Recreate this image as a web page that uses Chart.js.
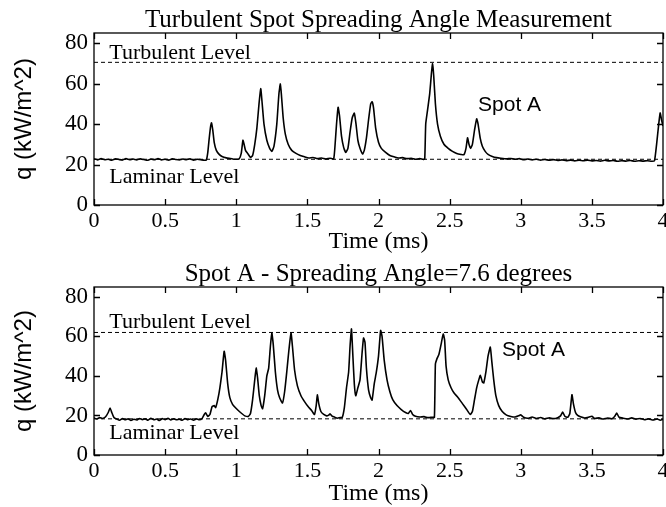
<!DOCTYPE html>
<html>
<head>
<meta charset="utf-8">
<script src="https://cdn.jsdelivr.net/npm/chart.js@4.4.1/dist/chart.umd.min.js"></script>
<style>
  html, body { margin: 0; padding: 0; background: #fff; }
  #wrap { position: relative; width: 666px; height: 507px; overflow: hidden; }
  canvas { position: absolute; left: 0; }
</style>
</head>
<body>
<div id="wrap">
  <canvas id="topChart" width="666" height="253" style="top:0"></canvas>
  <canvas id="bottomChart" width="666" height="254" style="top:253px"></canvas>
</div>
<script>
// Heat flux traces (time in ms, q in kW/m^2)
const topTime = [0, 0.025, 0.05, 0.075, 0.1, 0.125, 0.15, 0.175, 0.2, 0.225, 0.25, 0.275, 0.3, 0.325, 0.35, 0.375,
  0.4, 0.425, 0.45, 0.475, 0.5, 0.525, 0.55, 0.575, 0.6, 0.625, 0.65, 0.675, 0.7, 0.725, 0.75, 0.775, 0.79,
  0.8, 0.81, 0.82, 0.826, 0.835, 0.845, 0.86, 0.88, 0.9, 0.93, 0.96, 0.99, 1.02, 1.035, 1.047, 1.055, 1.065,
  1.08, 1.1, 1.115, 1.13, 1.145, 1.16, 1.172, 1.18, 1.195, 1.215, 1.235, 1.25, 1.265, 1.285, 1.3, 1.31, 1.318,
  1.33, 1.345, 1.365, 1.39, 1.42, 1.45, 1.48, 1.51, 1.54, 1.57, 1.6, 1.63, 1.66, 1.685, 1.695, 1.705, 1.716,
  1.726, 1.74, 1.755, 1.77, 1.785, 1.8, 1.815, 1.83, 1.842, 1.855, 1.87, 1.888, 1.9, 1.915, 1.93, 1.945, 1.955,
  1.965, 1.98, 2.0, 2.02, 2.05, 2.08, 2.11, 2.14, 2.17, 2.2, 2.23, 2.26, 2.29, 2.315, 2.325, 2.332, 2.345, 2.36,
  2.372, 2.38, 2.388, 2.4, 2.415, 2.435, 2.46, 2.49, 2.52, 2.55, 2.58, 2.6, 2.615, 2.626, 2.636, 2.648, 2.66,
  2.675, 2.69, 2.7, 2.715, 2.73, 2.75, 2.77, 2.8, 2.83, 2.86, 2.9, 2.93, 2.96, 2.99, 3.02, 3.05, 3.08, 3.11,
  3.14, 3.17, 3.2, 3.23, 3.26, 3.29, 3.32, 3.35, 3.38, 3.41, 3.44, 3.47, 3.5, 3.53, 3.56, 3.59, 3.62, 3.65,
  3.68, 3.71, 3.74, 3.77, 3.8, 3.83, 3.86, 3.89, 3.92, 3.94, 3.955, 3.97, 3.98, 3.99, 4.0];
const topQ = [22.8, 22.3, 22.9, 22.4, 22.6, 22.1, 22.8, 22.5, 22.2, 22.9, 22.4, 22.7, 22.3, 22.8, 22.5, 22.1,
  22.7, 22.4, 22.9, 22.3, 22.6, 22.2, 22.8, 22.5, 22.3, 22.7, 22.4, 22.8, 22.2, 22.6, 22.4, 22.1, 22.3,
  26, 33, 39, 40.6, 37, 31, 27, 25, 24, 23.3, 23, 22.6, 22.8, 25.5, 32, 30, 27,
  25.5, 23.5, 24.5, 30, 38, 50, 57.5, 52, 40, 32, 28, 26.5, 29, 40, 55, 59.8, 54,
  43, 35, 30, 27, 25.5, 24.5, 23.8, 23.2, 23.5, 22.9, 23.2, 22.7, 23.1, 22.8, 30, 40, 48.3,
  44, 34, 28.5, 26, 28, 36, 43, 45.4, 40, 32, 28, 25.2, 27, 33, 42, 50, 51,
  48, 38, 31, 28, 26, 24.5, 23.8, 23.2, 23.4, 22.9, 23.1, 22.6, 22.9, 22.5, 22.8, 40, 47, 55,
  65, 69.8, 64, 50, 40, 34, 30, 28, 26.5, 25.5, 25, 24.8, 28, 33.2, 30, 28, 30,
  37, 42.6, 40, 33, 29, 26.5, 25, 24, 23.4, 23.1, 22.8, 23.0, 22.6, 22.9, 22.4, 22.7, 22.3, 22.6,
  22.2, 22.5, 22.1, 22.4, 22.0, 22.3, 21.9, 22.2, 21.8, 22.1, 21.9, 22.2, 21.8, 22.0, 21.7, 22.1, 21.8, 22.0,
  21.6, 21.9, 21.7, 22.0, 21.6, 21.9, 21.7, 21.9, 21.6, 21.8, 30, 40, 45.5, 42, 39];

const bottomTime = [0, 0.02, 0.04, 0.06, 0.08, 0.1, 0.113, 0.125, 0.14, 0.16, 0.18, 0.2, 0.22, 0.24, 0.26, 0.28,
  0.3, 0.32, 0.34, 0.36, 0.38, 0.4, 0.42, 0.44, 0.46, 0.48, 0.5, 0.52, 0.54, 0.56, 0.58, 0.6, 0.62, 0.64, 0.66,
  0.68, 0.7, 0.72, 0.74, 0.76, 0.775, 0.785, 0.8, 0.815, 0.83, 0.845, 0.855, 0.87, 0.885, 0.9, 0.915, 0.925,
  0.94, 0.955, 0.975, 1.0, 1.03, 1.06, 1.085, 1.1, 1.115, 1.13, 1.14, 1.15, 1.162, 1.175, 1.185, 1.2, 1.215,
  1.228, 1.24, 1.25, 1.26, 1.275, 1.29, 1.305, 1.325, 1.34, 1.355, 1.37, 1.385, 1.395, 1.41, 1.43, 1.455, 1.48,
  1.505, 1.53, 1.55, 1.562, 1.57, 1.58, 1.595, 1.615, 1.635, 1.65, 1.66, 1.675, 1.69, 1.71, 1.73, 1.745, 1.76,
  1.775, 1.79, 1.8, 1.81, 1.82, 1.83, 1.84, 1.855, 1.87, 1.885, 1.895, 1.905, 1.915, 1.93, 1.945, 1.955, 1.97,
  1.985, 2.0, 2.015, 2.025, 2.04, 2.06, 2.08, 2.1, 2.13, 2.16, 2.19, 2.21, 2.225, 2.24, 2.26, 2.29, 2.32, 2.35,
  2.38, 2.393, 2.4, 2.41, 2.425, 2.44, 2.455, 2.465, 2.475, 2.49, 2.51, 2.53, 2.56, 2.59, 2.62, 2.645, 2.66,
  2.675, 2.69, 2.705, 2.716, 2.73, 2.74, 2.755, 2.77, 2.786, 2.797, 2.81, 2.825, 2.845, 2.87, 2.9, 2.93, 2.96,
  2.985, 3.0, 3.02, 3.05, 3.08, 3.11, 3.14, 3.17, 3.2, 3.23, 3.26, 3.28, 3.295, 3.31, 3.33, 3.345, 3.36, 3.37,
  3.385, 3.4, 3.42, 3.45, 3.48, 3.5, 3.52, 3.55, 3.58, 3.61, 3.64, 3.66, 3.675, 3.69, 3.72, 3.75, 3.78, 3.81,
  3.84, 3.87, 3.9, 3.93, 3.96, 3.98, 4.0];
const bottomQ = [18.8, 18.2, 18.9, 18.5, 19.2, 21.5, 23.8, 21.5, 19.0, 18.2, 17.6, 18.4, 17.8, 18.3, 17.5, 18.1,
  17.7, 18.5, 17.9, 18.3, 17.6, 18.6, 17.8, 18.2, 17.5, 18.4, 17.9, 18.6, 17.7, 18.3, 17.8, 18.1, 17.6, 18.4, 17.9,
  18.2, 17.6, 18.3, 17.8, 18.5, 20.5, 21.3, 19.5, 20.5, 24.5, 25, 24, 28, 34, 42, 52.5, 48,
  36, 29, 25.5, 23.5, 21.5, 19.8, 19.5, 21, 28, 38, 44, 39, 30, 25, 23.4, 30, 40,
  44, 55, 61.8, 56, 42, 33, 29, 26.3, 32, 42, 53, 61.8, 55, 43, 35, 30, 27,
  24.5, 22.5, 20.5, 25, 30.4, 26, 22, 20.5, 19.8, 20.2, 20.8, 19.6, 19.2, 18.6, 18.9, 19, 24,
  34, 42, 55, 63.8, 50, 36, 30, 34, 38, 52, 59.2, 57, 44, 33, 29, 27.8, 36,
  42, 50, 63, 60, 48, 38, 32, 28, 25, 23, 21.5, 21, 22.5, 20.5, 19.6, 19.2, 19.4, 18.9,
  19.1, 19, 46, 48.5, 51, 56, 61.2, 58, 45, 38, 34, 31.5, 29, 26, 23, 20.5, 22,
  28, 34, 38, 40.3, 37, 36.5, 42, 50, 54.6, 47, 38, 30, 25, 22, 20.2, 19.5, 19.2,
  19.8, 20.3, 19.1, 18.6, 19.2, 18.5, 19.0, 18.3, 18.8, 18.4, 18.9, 19.8, 21.7, 19.6, 19.1, 21, 30.5, 26,
  21.5, 20, 19.3, 18.7, 19.2, 19.6, 18.5, 18.8, 18.2, 18.7, 18.3, 19.5, 21.2, 19.2, 18.6, 18.2, 18.8, 18.1,
  18.5, 17.8, 18.3, 17.7, 18.2, 17.6, 18.0];

// reference levels
const topTurbulent = 70.5;
const topLaminar = 22.6;
const bottomTurbulent = 62;
const bottomLaminar = 18.3;

// axes
const xTicks = [0, 0.5, 1, 1.5, 2, 2.5, 3, 3.5, 4];
const xTickLabels = ['0', '0.5', '1', '1.5', '2', '2.5', '3', '3.5', '4'];
const yTicks = [0, 20, 40, 60, 80];
const yTickLabels = ['0', '20', '40', '60', '80'];

const SERIF = '"Liberation Serif", "Times New Roman", serif';
const SANS = '"Liberation Sans", Arial, sans-serif';

// frame, inward ticks, titles and text labels in MATLAB style
const matlabFrame = {
  id: 'matlabFrame',
  afterDatasetsDraw(chart, args, opts) {
    const { ctx, chartArea: a, scales: { x, y } } = chart;
    ctx.save();
    ctx.strokeStyle = '#000';
    ctx.lineWidth = 1.3;
    ctx.strokeRect(a.left, a.top, a.right - a.left, a.bottom - a.top);
    ctx.beginPath();
    x.ticks.forEach(t => {
      const px = Math.round(x.getPixelForValue(t.value)) + 0.5;
      ctx.moveTo(px, a.bottom); ctx.lineTo(px, a.bottom - 6);
      ctx.moveTo(px, a.top); ctx.lineTo(px, a.top + 6);
    });
    y.ticks.forEach(t => {
      const py = Math.round(y.getPixelForValue(t.value)) + 0.5;
      ctx.moveTo(a.left, py); ctx.lineTo(a.left + 6, py);
      ctx.moveTo(a.right, py); ctx.lineTo(a.right - 6, py);
    });
    ctx.stroke();

    ctx.fillStyle = '#000';
    ctx.textBaseline = 'alphabetic';
    ctx.textAlign = 'center';
    const cx = (a.left + a.right) / 2;
    ctx.font = '25px ' + SERIF;
    ctx.fillText(opts.title, cx, opts.titleY);
    ctx.font = '24px ' + SERIF;
    ctx.fillText('Time (ms)', cx, opts.xLabelY);

    ctx.save();
    ctx.translate(opts.yLabelX, (a.top + a.bottom) / 2);
    ctx.rotate(-Math.PI / 2);
    ctx.font = '24px ' + SANS;
    ctx.textBaseline = 'middle';
    ctx.fillText('q (kW/m^2)', 0, 0);
    ctx.restore();

    ctx.textAlign = 'left';
    opts.notes.forEach(n => {
      ctx.font = n.font;
      ctx.fillText(n.text, x.getPixelForValue(n.x), y.getPixelForValue(n.y));
    });
    ctx.restore();
  }
};

function makePanel(id, time, q, turbulent, laminar, frame) {
  const ctx = document.getElementById(id).getContext('2d');
  const h = ctx.canvas.height;
  return new Chart(ctx, {
    type: 'line',
    data: {
      datasets: [
        {
          data: [{ x: 0, y: turbulent }, { x: 4, y: turbulent }],
          borderColor: '#000', borderWidth: 1, borderDash: [4, 3], pointRadius: 0
        },
        {
          data: [{ x: 0, y: laminar }, { x: 4, y: laminar }],
          borderColor: '#000', borderWidth: 1, borderDash: [4, 3], pointRadius: 0
        },
        {
          data: time.map((t, i) => ({ x: t, y: q[i] })),
          borderColor: '#000', borderWidth: 1.6, pointRadius: 0, tension: 0.15,
          borderJoinStyle: 'round'
        }
      ]
    },
    options: {
      responsive: false,
      animation: false,
      devicePixelRatio: 1,
      layout: { padding: { top: frame.top, right: 3, left: 0, bottom: 0 } },
      plugins: {
        legend: { display: false },
        tooltip: { enabled: false },
        matlabFrame: frame
      },
      scales: {
        x: {
          type: 'linear', min: 0, max: 4,
          afterBuildTicks: s => { s.ticks = xTicks.map(v => ({ value: v })); },
          afterFit: s => { s.height = h - frame.bottom; s.paddingLeft = 0; s.paddingRight = 0; },
          grid: { display: false, drawTicks: false },
          border: { display: false },
          ticks: {
            autoSkip: false, maxRotation: 0, padding: 3, color: '#000',
            font: { family: SERIF, size: 22 },
            callback: (v, i) => xTickLabels[i]
          }
        },
        y: {
          type: 'linear', min: 0, max: 85,
          afterBuildTicks: s => { s.ticks = yTicks.map(v => ({ value: v })); },
          afterFit: s => { s.width = 94; s.paddingTop = 0; s.paddingBottom = 0; },
          grid: { display: false, drawTicks: false },
          border: { display: false },
          ticks: {
            padding: 6, color: '#000',
            font: { family: SERIF, size: 23 },
            callback: (v, i) => yTickLabels[i]
          }
        }
      }
    },
    plugins: [matlabFrame]
  });
}

makePanel('topChart', topTime, topQ, topTurbulent, topLaminar, {
  top: 33, bottom: 205, titleY: 27, xLabelY: 248, yLabelX: 24,
  title: 'Turbulent Spot Spreading Angle Measurement',
  notes: [
    { text: 'Turbulent Level', x: 0.107, y: 72, font: '22px ' + SERIF },
    { text: 'Laminar Level', x: 0.107, y: 11, font: '22px ' + SERIF },
    { text: 'Spot A', x: 2.70, y: 46.7, font: '21px ' + SANS }
  ]
});

makePanel('bottomChart', bottomTime, bottomQ, bottomTurbulent, bottomLaminar, {
  top: 34, bottom: 202, titleY: 28, xLabelY: 247, yLabelX: 24,
  title: 'Spot A - Spreading Angle=7.6 degrees',
  notes: [
    { text: 'Turbulent Level', x: 0.107, y: 64.3, font: '22px ' + SERIF },
    { text: 'Laminar Level', x: 0.107, y: 7.9, font: '22px ' + SERIF },
    { text: 'Spot A', x: 2.868, y: 50, font: '21px ' + SANS }
  ]
});
</script>
</body>
</html>
